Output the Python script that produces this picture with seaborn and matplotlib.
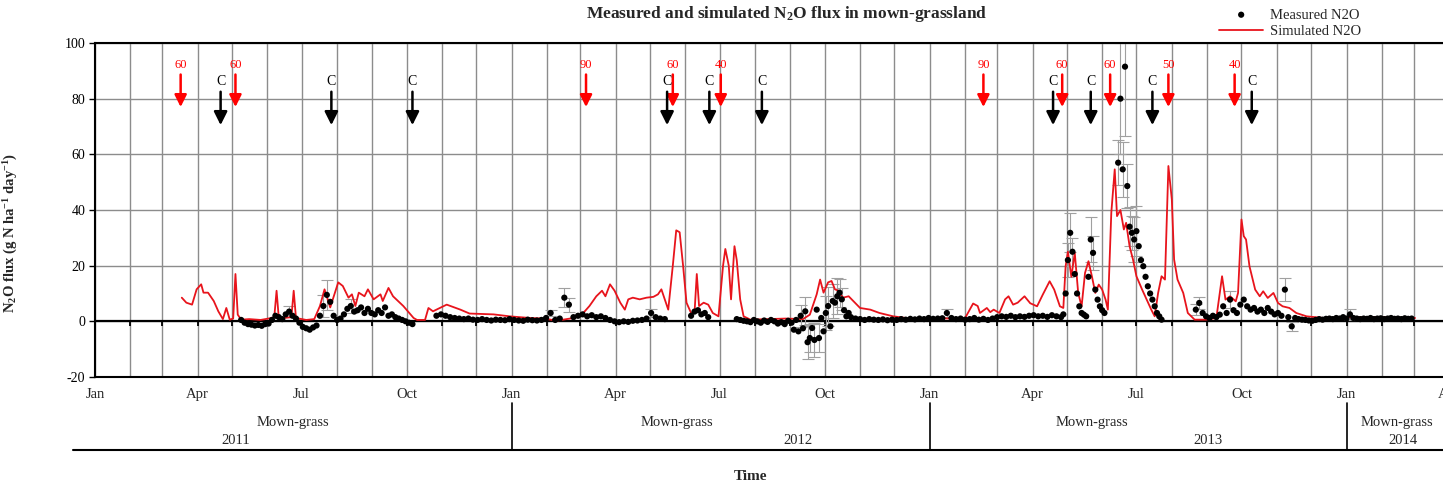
import numpy as np
import pandas as pd
import matplotlib
matplotlib.use("Agg")
import matplotlib.pyplot as plt
import matplotlib.dates as mdates
import matplotlib.transforms as mtransforms
import seaborn as sns

base = pd.Timestamp("2011-01-01")

# simulated N2O flux, day offset from 1 Jan 2011 -> g N/ha/day
sim_days = [76, 80, 85, 89, 93, 95, 99, 104, 108, 112, 115, 118, 121, 123, 125, 128, 135, 145, 152, 157,
            159, 161, 172, 174, 176, 185, 192, 197, 201, 206, 213, 217, 222, 225, 228, 231, 236, 239, 244, 250,
            252, 257, 261, 270, 279, 282, 289, 292, 296, 302, 308, 320, 328, 349, 363, 381, 394, 404, 416, 425,
            433, 439, 444, 447, 451, 455, 460, 464, 467, 471, 477, 483, 489, 493, 496, 499, 502, 506, 509, 512,
            515, 518, 522, 525, 527, 529, 533, 537, 541, 546, 550, 552, 555, 557, 560, 562, 565, 568, 574, 590,
            605, 620, 626, 632, 635, 638, 642, 645, 648, 651, 655, 660, 664, 670, 679, 687, 699, 714, 731, 749,
            762, 769, 773, 775, 781, 784, 787, 792, 797, 800, 804, 808, 814, 819, 825, 830, 836, 840, 845, 848,
            850, 852, 855, 858, 861, 864, 867, 870, 873, 876, 879, 882, 885, 887, 890, 893, 895, 898, 901, 903,
            906, 909, 912, 917, 921, 925, 928, 931, 934, 937, 940, 943, 945, 948, 953, 957, 963, 973, 982, 987,
            990, 994, 999, 1001, 1004, 1006, 1008, 1011, 1016, 1020, 1023, 1027, 1032, 1036, 1040, 1046, 1052,
            1061, 1076, 1095, 1125, 1156]
sim_flux = [8.5, 6.7, 6.0, 11.5, 13.3, 10.3, 10.3, 7.3, 3.6, 0.8, 4.8, 0.6, 1.0, 17.0, 2.4, 0.6, 0.8, 0.5, 1.0, 1.5,
            11.0, 1.0, 1.5, 11.0, 1.2, 0.5, 0.8, 5.5, 11.5, 5.0, 14.0, 12.7, 8.5, 9.7, 5.5, 10.3, 9.0, 11.5, 7.9, 9.7,
            7.3, 12.0, 9.0, 5.5, 1.2, 0.5, 0.5, 4.8, 3.6, 4.8, 6.0, 4.2, 2.8, 2.5, 1.8, 1.2, 1.0, 0.2, 1.0, 1.8,
            5.5, 9.0, 11.0, 9.0, 13.3, 11.0, 6.7, 4.2, 7.9, 8.5, 7.9, 8.5, 8.8, 9.7, 11.5, 7.9, 4.2, 20.0, 32.7, 32.0,
            20.0, 6.7, 3.0, 3.0, 17.0, 5.5, 6.7, 6.0, 3.0, 1.8, 20.0, 26.0, 20.0, 7.9, 27.0, 22.0, 7.9, 1.8, 0.6, 0.8,
            1.0, 0.8, 2.4, 9.7, 15.0, 10.3, 14.0, 14.5, 11.5, 11.0, 8.5, 9.0, 7.3, 4.8, 4.2, 3.0, 1.8, 1.0, 1.2, 1.0,
            1.2, 6.4, 5.5, 3.0, 4.8, 3.3, 4.2, 3.0, 7.9, 9.0, 6.0, 6.7, 9.0, 6.5, 5.4, 9.6, 14.4, 11.4, 5.4, 4.8,
            19.8, 25.0, 16.0, 24.6, 10.2, 5.4, 17.4, 21.6, 16.2, 10.2, 13.2, 11.4, 7.8, 4.2, 39.0, 54.6, 37.8, 40.0, 33.0, 35.4,
            27.0, 22.2, 16.2, 11.4, 7.8, 4.2, 1.8, 10.2, 16.2, 15.0, 55.8, 43.8, 22.2, 15.0, 10.2, 3.0, 0.6, 0.6, 1.2, 16.2,
            7.8, 9.0, 7.2, 10.2, 36.6, 30.6, 29.4, 19.8, 11.4, 9.0, 10.8, 8.4, 10.2, 6.6, 5.4, 4.8, 3.0,
            1.8, 1.2, 1.5, 1.5, 1.2]

# measured N2O flux, sampled in runs: (first day, step in days, values)
meas_2011 = [0.5, -0.5, -1.0, -1.2, -1.5, -1.3, -1.6, -1.0, -0.8, 0.5, 2.0, 1.5, 0.8, 2.5, 3.5, 2.0, 1.0,
             -0.5, -2.0, -2.5, -3.0, -2.2, -1.5, 2.0, 5.5, 9.5, 7.0, 2.0, 0.5, 1.0, 2.5, 4.5, 5.5, 3.5, 4.0,
             5.0, 3.0, 4.5, 3.0, 2.5, 4.0, 3.0, 5.0, 2.0, 2.5, 1.5, 1.0, 0.5, 0.0, -0.5, -1.0]
meas_winter = [2.0, 2.5, 2.0, 1.5, 1.2, 1.0, 0.8, 1.0, 0.6, 0.5, 0.8, 0.5, 0.3, 0.6, 0.5, 0.4, 0.8, 0.5,
               0.3, 0.2, 0.6, 0.4, 0.3, 0.5, 1.2, 3.0, 0.5, 1.0, 8.5, 6.0, 1.5, 2.0, 2.5, 1.8, 2.2, 1.5,
               1.8, 1.2, 0.5, 0.0, -0.3, 0.0, -0.2, 0.2, 0.3, 0.5, 1.0, 3.0, 1.5, 1.0, 0.8]
meas_jun12 = [2.0, 3.5, 4.0, 2.5, 3.0, 1.5]
meas_aug12 = [0.8, 0.5, 0.2, 0.0, -0.3, 0.5, 0.0, -0.5, 0.3, -0.2, 0.5, 0.0, -0.8, -0.3, -1.0, 0.2, -0.5]
meas_sep12 = [-3.0, 0.5, -3.6, 2.0, -2.5, 3.6, -7.5, -6.0, -2.4, -6.7, 4.2, -6.0, 1.2, -3.6, 3.0, 5.5,
              -1.8, 7.3, 6.7, 9.0, 10.3, 7.9, 4.0, 1.8, 3.0]
meas_spring13 = [1.5, 1.0, 0.8, 0.5, 0.8, 0.6, 0.5, 0.7, 0.4, 0.6, 0.5, 0.8, 0.6, 0.9, 0.7, 1.0, 0.8, 1.2,
                 0.9, 1.0, 1.1, 3.0, 1.2, 0.8, 1.0, 0.6, 0.8, 1.2, 0.6, 0.9, 0.5, 1.0, 1.5, 1.8, 1.6, 2.0,
                 1.5, 1.8, 1.6, 2.0, 2.2, 1.8, 2.0, 1.6, 2.2, 1.8, 1.5]
meas_may13 = [2.5, 10.0, 22.0, 31.8, 25.0, 17.0, 10.0, 5.4, 3.0, 2.4, 1.8, 16.0, 29.4, 24.6, 11.4, 7.8,
              5.4, 4.0, 3.0]
meas_jun13 = [57.0, 80.0, 54.6, 91.5, 48.6, 34.0, 31.8, 29.4, 32.4, 27.0, 22.0, 19.8, 16.0, 12.6, 10.0,
              7.8, 5.4, 3.0, 1.8, 0.6]
meas_autumn13 = [4.2, 6.6, 3.0, 1.8, 1.2, 2.0, 1.5, 2.4, 5.4, 3.0, 7.8, 4.0, 3.0, 6.0, 7.8, 5.4, 4.2, 4.8,
                 3.5, 4.2, 3.0, 4.8, 3.5, 2.5, 3.0, 2.0, 11.4, 1.5, -1.8, 1.2, 0.8, 0.6, 0.5, 0.3, 0.2,
                 0.5, 0.8, 0.6, 0.9, 1.0, 0.8, 1.2, 1.0, 1.5, 1.0, 2.5, 1.2, 1.0, 0.8, 1.0, 0.9, 1.2,
                 0.8, 1.0, 1.1, 0.8, 1.0, 1.2, 0.9, 1.0, 0.8, 1.1, 0.9, 1.0]
meas_runs = [(128, 3, meas_2011), (299, 4, meas_winter), (522, 3, meas_jun12), (562, 3, meas_aug12),
             (612, 2, meas_sep12), (662, 4, meas_spring13), (848, 2, meas_may13), (896, 2, meas_jun13),
             (964, 3, meas_autumn13)]

# standard deviation shown for some measured days
err_days = [170, 200, 203, 224, 399, 411, 415, 487, 618, 622, 624, 626, 630, 634, 640, 642, 646, 650, 652,
            654, 746, 852, 854, 856, 872, 874, 896, 898, 900, 902, 904, 906, 908, 910, 912, 964, 967, 994,
            1042, 1048, 1099]
err_size = [2.0, 4.0, 5.5, 2.5, 1.0, 3.5, 2.5, 1.5, 4.0, 5.0, 6.0, 5.0, 6.0, 5.0, 6.0, 7.0, 6.0, 6.5, 5.0,
            4.0, 1.5, 6.0, 7.0, 5.0, 8.0, 6.0, 8.0, 20.0, 10.0, 25.0, 8.0, 7.0, 6.0, 8.0, 9.0, 2.0, 2.0, 3.0,
            4.0, 1.5, 2.0]

# management: fertiliser (kg N/ha) and cuts
fert_dates = ["2011-03-17", "2011-05-04", "2012-03-06", "2012-05-21", "2012-07-02",
              "2013-02-17", "2013-04-27", "2013-06-08", "2013-07-29", "2013-09-25"]
fert_amount = [60, 60, 90, 60, 40, 90, 60, 60, 50, 40]
cut_dates = ["2011-04-21", "2011-07-27", "2011-10-06", "2012-05-16", "2012-06-22", "2012-08-07",
             "2013-04-19", "2013-05-22", "2013-07-15", "2013-10-10"]

years = ["2011", "2012", "2013", "2014"]
land_use = ["Mown-grass", "Mown-grass", "Mown-grass", "Mown-grass"]

sim = pd.DataFrame({"date": base + pd.to_timedelta(sim_days, unit="D"), "flux": sim_flux})
parts = []
for start, step, vals in meas_runs:
    d = start + step * np.arange(len(vals))
    parts.append(pd.DataFrame({"day": d, "flux": vals}))
meas = pd.concat(parts, ignore_index=True)
meas["date"] = base + pd.to_timedelta(meas["day"], unit="D")
err = pd.DataFrame({"day": err_days, "sd": err_size}).merge(meas, on="day")

sns.set_style("white")
plt.rcParams["font.family"] = ["Liberation Serif", "DejaVu Serif"]
plt.rcParams["mathtext.default"] = "regular"
plt.rcParams["axes.unicode_minus"] = False

fig = plt.figure(figsize=(14.43, 4.88), dpi=100)
ax = fig.add_axes([95 / 1443, 1 - 377 / 488, 1376 / 1443, 334 / 488])

sns.lineplot(data=sim, x="date", y="flux", ax=ax, color="#e8141c", lw=1.3, label="Simulated N2O", zorder=3)
ax.errorbar(err["date"], err["flux"], yerr=err["sd"], fmt="none", ecolor="#a0a0a0", elinewidth=0.8,
            capsize=4, capthick=0.8, zorder=2)
sns.scatterplot(data=meas, x="date", y="flux", ax=ax, color="black", s=20, marker="o", edgecolor="none",
                label="Measured N2O", zorder=4)

ax.set_xlim(base, base + pd.Timedelta(days=1205))
ax.set_ylim(-20, 100)
ax.set_yticks(range(-20, 101, 20))
ax.xaxis.set_major_locator(mdates.MonthLocator())
ax.xaxis.set_major_formatter(plt.FuncFormatter(
    lambda v, pos: mdates.num2date(v).strftime("%b") if mdates.num2date(v).month in (1, 4, 7, 10) else ""))
ax.tick_params(axis="x", length=0, pad=8, labelsize=10.5)
ax.tick_params(axis="y", length=4, width=1, left=True, labelsize=10, colors="black", pad=3)
ax.grid(True, color="#8c8c8c", lw=1.0)
ax.set_axisbelow(True)
for s in ["left", "top", "bottom"]:
    ax.spines[s].set_color("black")
    ax.spines[s].set_linewidth(1.5)
ax.spines["right"].set_visible(False)

# zero axis with monthly ticks
months = pd.date_range("2011-01-01", "2014-05-01", freq="MS")
ax.axhline(0, color="black", lw=1.6, zorder=1.5)
ax.vlines(months, -1.8, 0, colors="black", lw=1.3, zorder=1.5)

for d, amt in zip(fert_dates, fert_amount):
    ax.annotate(str(amt), xy=(pd.Timestamp(d), 77), xytext=(pd.Timestamp(d), 92), ha="center", va="center",
                color="red", fontsize=9,
                arrowprops=dict(arrowstyle="-|>,head_width=0.4,head_length=0.8", color="red", lw=1.8,
                                shrinkA=0, shrinkB=0))
for d in cut_dates:
    ax.annotate("C", xy=(pd.Timestamp(d), 70.5), xytext=(pd.Timestamp(d), 86), ha="center", va="center",
                color="black", fontsize=10,
                arrowprops=dict(arrowstyle="-|>,head_width=0.4,head_length=0.8", color="black", lw=1.8,
                                shrinkA=0, shrinkB=0))

ax.set_xlabel("")
ax.set_ylabel(r"N$_2$O flux (g N ha$^{-1}$ day$^{-1}$)", fontsize=10.5, fontweight="bold")
ax.yaxis.set_label_coords(-0.0545, 0.43)

# land-use / year band under the axis
trans = mtransforms.blended_transform_factory(ax.transData, ax.transAxes)
for y in years[1:]:
    x = mdates.date2num(pd.Timestamp(y + "-01-01"))
    ax.plot([x, x], [-0.078, -0.219], transform=trans, color="black", lw=1.2, clip_on=False)
ax.plot([-0.016, 1.05], [-0.219, -0.219], transform=ax.transAxes, color="black", lw=1.5, clip_on=False)
lu_pos = ["2011-06-23", "2012-05-25", "2013-05-23", "2014-02-14"]
yr_pos = ["2011-05-04", "2012-09-08", "2013-09-02", "2014-02-19"]
for lab, p in zip(land_use, lu_pos):
    ax.text(mdates.date2num(pd.Timestamp(p)), -0.135, lab, transform=trans, ha="center", va="center",
            fontsize=10.5)
for lab, p in zip(years, yr_pos):
    ax.text(mdates.date2num(pd.Timestamp(p)), -0.189, lab, transform=trans, ha="center", va="center",
            fontsize=10.5)

fig.text(787 / 1443, 1 - 14 / 488, r"Measured and simulated N$_2$O flux in mown-grassland",
         ha="center", va="center", fontsize=12.5, fontweight="bold")
fig.text(750 / 1443, 1 - 477 / 488, "Time", ha="center", va="center", fontsize=11, fontweight="bold")

h, l = ax.get_legend_handles_labels()
ax.legend_.remove()
order = [l.index("Measured N2O"), l.index("Simulated N2O")]
fig.legend([h[i] for i in order], [l[i] for i in order], loc="center left",
           bbox_to_anchor=(1212 / 1443, 1 - 23 / 488), frameon=False, fontsize=10.5,
           handlelength=3.0, handletextpad=0.5, labelspacing=0.2, borderpad=0)

plt.savefig("out.png", dpi=100)
